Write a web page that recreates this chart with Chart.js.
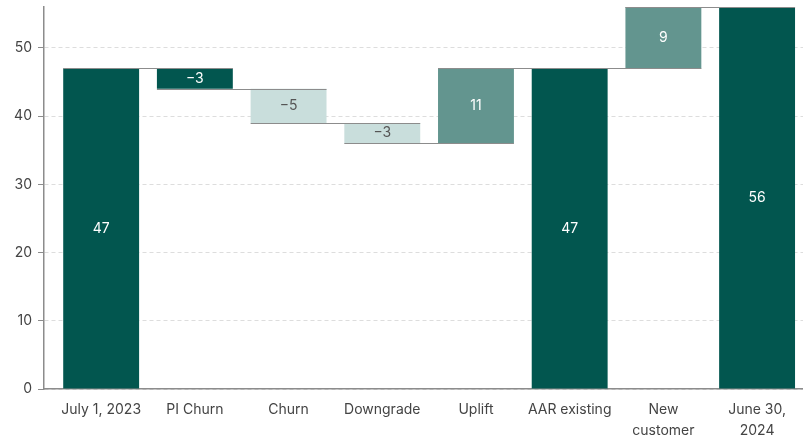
<!DOCTYPE html>
<html>
<head>
<meta charset="utf-8">
<script src="https://cdn.jsdelivr.net/npm/chart.js@4/dist/chart.umd.min.js"></script>
<style>
  html, body { margin: 0; padding: 0; background: #fff; }
  #wrap { width: 803px; height: 436px; }
</style>
</head>
<body>
<div id="wrap"><canvas id="waterfall"></canvas></div>
<script>
const labels = ["July 1, 2023", "PI Churn", "Churn", "Downgrade", "Uplift", "AAR existing", ["New", "customer"], ["June 30,", "2024"]];
const values = [47, -3, -5, -3, 11, 47, 9, 56];
const isTotal = [true, false, false, false, false, true, false, true];
const yTicks = [0, 10, 20, 30, 40, 50];

const barColors = ["#02564F", "#02564F", "#C9DEDC", "#C9DEDC", "#63958F", "#02564F", "#63958F", "#02564F"];
const textColors = ["#fff", "#fff", "#555", "#555", "#fff", "#fff", "#fff", "#fff"];

// floating ranges: totals sit on zero, changes start where the running sum is
let running = 0;
const ranges = values.map((v, i) => {
  if (isTotal[i]) { running = v; return [0, v]; }
  const start = running;
  running += v;
  return [start, running];
});
const ends = ranges.map(r => r[1]);

const fmt = v => (v < 0 ? "\u2212" + Math.abs(v) : String(v));

const connectors = {
  id: "connectors",
  afterDatasetsDraw(chart) {
    const ctx = chart.ctx;
    const meta = chart.getDatasetMeta(0);
    const y = chart.scales.y;
    ctx.save();
    ctx.strokeStyle = "#8c8c8c";
    ctx.lineWidth = 1.2;
    for (let i = 0; i < meta.data.length - 1; i++) {
      const a = meta.data[i], b = meta.data[i + 1];
      const py = Math.round(y.getPixelForValue(ends[i])) + 0.5;
      ctx.beginPath();
      ctx.moveTo(a.x - a.width / 2, py);
      ctx.lineTo(b.x + b.width / 2, py);
      ctx.stroke();
    }
    // value labels in the middle of each bar
    ctx.font = "14px Inter, 'Noto Sans', sans-serif";
    ctx.textAlign = "center";
    ctx.textBaseline = "middle";
    meta.data.forEach((bar, i) => {
      ctx.fillStyle = textColors[i];
      ctx.fillText(fmt(values[i]), bar.x, (bar.y + bar.base) / 2);
    });
    ctx.restore();
  }
};

new Chart(document.getElementById("waterfall"), {
  type: "bar",
  data: {
    datasets: [{
      data: ranges.map((r, i) => ({ x: i, y: r })),
      backgroundColor: barColors,
      borderWidth: 0,
      categoryPercentage: 1,
      barPercentage: 0.81
    }]
  },
  options: {
    responsive: true,
    maintainAspectRatio: false,
    animation: false,
    layout: { padding: { top: 7, left: 0, right: 0, bottom: 0 } },
    plugins: { legend: { display: false }, tooltip: { enabled: false } },
    scales: {
      x: {
        type: "linear",
        offset: false,
        min: -0.61,
        max: 7.49,
        afterBuildTicks: s => { s.ticks = labels.map((_, i) => ({ value: i })); },
        afterFit: s => { s.height = 47; s.paddingLeft = 0; s.paddingRight = 0; },
        grid: { display: false, drawTicks: false, offset: false },
        border: { display: true, color: "#8c8c8c", width: 1.5 },
        ticks: {
          autoSkip: false,
          maxRotation: 0,
          padding: 10,
          color: "#444",
          font: { family: "Inter, 'Noto Sans', sans-serif", size: 14, lineHeight: 1.5 },
          callback: v => labels[v]
        }
      },
      y: {
        min: 0,
        max: 56,
        afterBuildTicks: s => { s.ticks = yTicks.map(v => ({ value: v })); },
        afterFit: s => { s.width = 44; s.paddingTop = 0; s.paddingBottom = 0; },
        grid: {
          color: "#dddddd",
          tickColor: "#8c8c8c",
          tickLength: 6,
          drawTicks: true
        },
        border: { display: true, color: "#8c8c8c", width: 1.5, dash: [4, 3] },
        ticks: {
          padding: 6,
          color: "#444",
          font: { family: "Inter, 'Noto Sans', sans-serif", size: 14 }
        }
      }
    }
  },
  plugins: [connectors]
});
</script>
</body>
</html>
